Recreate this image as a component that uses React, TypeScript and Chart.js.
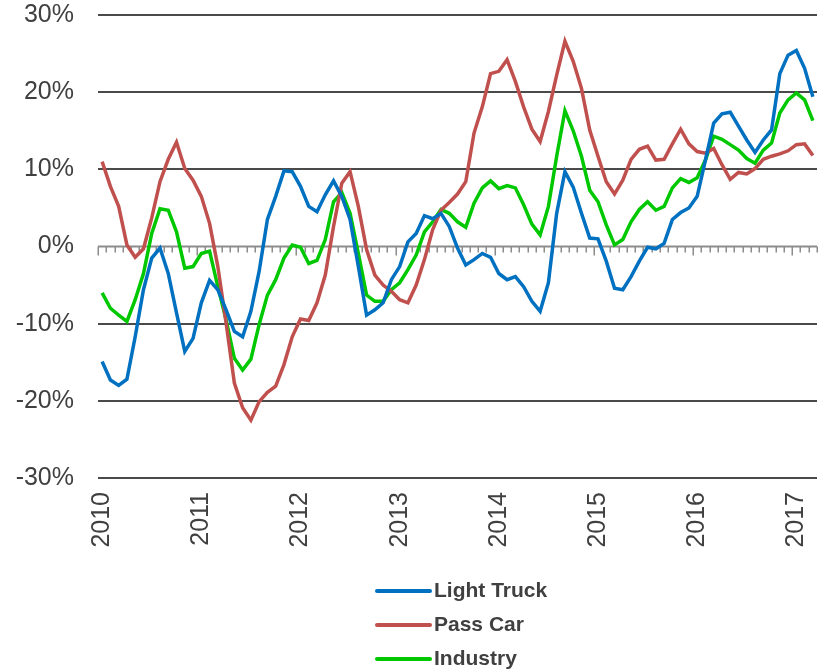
import React, { useEffect, useRef } from "react";
import { Chart, registerables } from "chart.js";

Chart.register(...registerables);

// Year labels shown on the category axis (one per January)
const yearLabels = ["2010", "2011", "2012", "2013", "2014", "2015", "2016", "2017"];
const monthNames = ["Jan", "Feb", "Mar", "Apr", "May", "Jun", "Jul", "Aug", "Sep", "Oct", "Nov", "Dec"];
const monthCount = 87; // Jan 2010 .. Mar 2017

// Year-over-year change, %
const lightTruck = [
  -14.9, -17.3, -18.0, -17.2, -11.7, -5.6, -1.5, -0.2, -3.5, -8.6, -13.6, -11.9,
  -7.3, -4.4, -5.6, -8.2, -11.0, -11.7, -8.4, -3.2, 3.5, 6.5, 9.8, 9.7,
  7.8, 5.2, 4.5, 6.7, 8.5, 6.5, 3.5, -2.6, -8.9, -8.2, -7.3, -4.3,
  -2.6, 0.6, 1.7, 4.0, 3.6, 4.3, 2.6, -0.2, -2.4, -1.7, -0.9, -1.4,
  -3.5, -4.3, -3.9, -5.2, -7.1, -8.4, -4.7, 4.3, 9.7, 7.7, 4.3, 1.1,
  1.0, -1.9, -5.4, -5.6, -3.9, -1.9, -0.1, -0.3, 0.4, 3.5, 4.4, 5.0,
  6.5, 11.2, 16.0, 17.2, 17.4, 15.6, 13.8, 12.2, 13.8, 15.1, 22.4, 24.8,
  25.4, 23.1, 19.4,
];

const passCar = [
  11.0, 7.8, 5.2, 0.2, -1.4, -0.3, 3.7, 8.4, 11.3, 13.5, 10.1, 8.6,
  6.5, 3.0, -2.6, -9.9, -17.7, -20.9, -22.5, -20.1, -18.9, -18.1, -15.3, -11.7,
  -9.4, -9.6, -7.3, -3.7, 2.6, 8.2, 9.7, 5.2, -0.4, -3.7, -5.0, -5.8,
  -6.9, -7.3, -5.0, -1.7, 2.2, 4.7, 5.7, 6.8, 8.4, 14.7, 18.1, 22.4,
  22.7, 24.2, 21.4, 18.1, 15.2, 13.6, 17.5, 22.2, 26.6, 24.0, 20.5, 15.1,
  11.7, 8.4, 6.8, 8.6, 11.3, 12.6, 13.0, 11.2, 11.3, 13.3, 15.2, 13.3,
  12.3, 12.1, 12.7, 10.6, 8.7, 9.6, 9.4, 10.1, 11.3, 11.7, 12.0, 12.4,
  13.2, 13.3, 11.8,
];

const industry = [
  -6.0, -8.0, -8.9, -9.7, -6.9, -3.5, 1.7, 4.9, 4.7, 1.9, -2.8, -2.6,
  -0.9, -0.6, -5.2, -9.5, -14.5, -16.0, -14.6, -10.1, -6.3, -4.3, -1.5, 0.2,
  -0.1, -2.2, -1.8, 0.9, 5.8, 7.0, 4.3, -0.9, -6.3, -7.1, -7.1, -5.6,
  -4.7, -3.0, -1.1, 1.9, 3.2, 4.8, 4.3, 3.2, 2.5, 5.6, 7.6, 8.5,
  7.5, 7.9, 7.6, 5.4, 2.9, 1.5, 5.2, 11.7, 17.6, 15.0, 11.7, 7.3,
  5.8, 2.8, 0.2, 0.9, 3.2, 4.8, 5.8, 4.7, 5.2, 7.6, 8.8, 8.3,
  8.9, 11.2, 14.3, 13.9, 13.2, 12.5, 11.4, 10.8, 12.5, 13.4, 17.3, 19.0,
  19.9, 19.0, 16.3,
];

const seriesNames = ["Light Truck", "Pass Car", "Industry"];
const seriesColors = ["#0070C0", "#C0504D", "#00C800"];

const yTicks = [-30, -20, -10, 0, 10, 20, 30];

const monthLabels: string[] = [];
for (let i = 0; i < monthCount; i++) {
  monthLabels.push(monthNames[i % 12] + " " + yearLabels[Math.floor(i / 12)]);
}

const TEXT = "#404040";
const FONT = "'Liberation Sans', Arial, sans-serif";

// Grey zero axis with monthly tick marks, drawn beneath the lines
const zeroAxisPlugin = {
  id: "zeroAxis",
  beforeDatasetsDraw(chart: any) {
    const { ctx, chartArea, scales } = chart;
    const y0 = scales.y.getPixelForValue(0);
    const n = chart.data.labels.length;
    const step = (chartArea.right - chartArea.left) / n;
    ctx.save();
    ctx.strokeStyle = "#8C8C8C";
    ctx.lineWidth = 2;
    ctx.beginPath();
    ctx.moveTo(chartArea.left, y0);
    ctx.lineTo(chartArea.right, y0);
    ctx.stroke();
    ctx.lineWidth = 1.5;
    ctx.beginPath();
    for (let k = 0; k <= n; k++) {
      const x = Math.round(chartArea.left + k * step) + 0.25;
      const len = k % 12 === 0 ? 9 : 6;
      ctx.moveTo(x, y0);
      ctx.lineTo(x, y0 + len);
    }
    ctx.stroke();
    ctx.restore();
  },
};

// Stacked legend under the axis labels
const stackedLegendPlugin = {
  id: "stackedLegend",
  afterDraw(chart: any) {
    const { ctx } = chart;
    const rows = [591, 625, 659];
    ctx.save();
    chart.data.datasets.forEach((ds: any, i: number) => {
      const y = rows[i];
      ctx.strokeStyle = ds.borderColor;
      ctx.lineWidth = 4;
      ctx.lineCap = "round";
      ctx.beginPath();
      ctx.moveTo(377, y);
      ctx.lineTo(430, y);
      ctx.stroke();
      ctx.fillStyle = TEXT;
      ctx.font = "bold 21px " + FONT;
      ctx.textAlign = "left";
      ctx.textBaseline = "middle";
      ctx.fillText(ds.label, 434, y);
    });
    ctx.restore();
  },
};

function noScalePadding(scale: any) {
  scale.paddingTop = 0;
  scale.paddingBottom = 0;
  scale.paddingLeft = 0;
  scale.paddingRight = 0;
}

export default function App() {
  const canvasRef = useRef<HTMLCanvasElement | null>(null);

  useEffect(() => {
    if (!canvasRef.current) return;
    const values = [lightTruck, passCar, industry];
    const chart = new Chart(canvasRef.current, {
      type: "line",
      data: {
        labels: monthLabels,
        datasets: values.map((v, i) => ({
          label: seriesNames[i],
          data: v,
          borderColor: seriesColors[i],
          backgroundColor: seriesColors[i],
          borderWidth: 3.5,
          pointRadius: 0,
          tension: 0,
          fill: false,
        })),
      },
      options: {
        responsive: false,
        animation: false,
        devicePixelRatio: 1,
        layout: { padding: { top: 15, right: 12, left: 0, bottom: 0 } },
        plugins: {
          legend: { display: false },
          tooltip: { enabled: false },
        },
        scales: {
          x: {
            type: "category",
            offset: true,
            grid: { display: false, drawTicks: false },
            border: { display: false },
            ticks: {
              autoSkip: false,
              maxRotation: 90,
              minRotation: 90,
              padding: 14,
              color: TEXT,
              font: { family: FONT, size: 25 },
              callback: (_v: any, idx: number) =>
                idx % 12 === 0 ? yearLabels[idx / 12] : "",
            },
            afterFit: (scale: any) => {
              scale.height = 194;
              noScalePadding(scale);
            },
          },
          y: {
            min: yTicks[0],
            max: yTicks[yTicks.length - 1],
            afterBuildTicks: (scale: any) => {
              scale.ticks = yTicks.map((v) => ({ value: v }));
            },
            grid: {
              drawTicks: false,
              lineWidth: 2,
              color: (c: any) => (c.tick && c.tick.value === 0 ? "rgba(0,0,0,0)" : "#4A4A4A"),
            },
            border: { display: false },
            ticks: {
              padding: 24,
              color: TEXT,
              font: { family: FONT, size: 25 },
              callback: (v: any) => v + "%",
            },
            afterFit: (scale: any) => {
              scale.width = 98;
              noScalePadding(scale);
            },
          },
        },
      },
      plugins: [zeroAxisPlugin, stackedLegendPlugin],
    });
    return () => chart.destroy();
  }, []);

  return (
    <div style={{ position: "fixed", left: 0, top: 0, width: 829, height: 672, background: "#fff" }}>
      <canvas ref={canvasRef} width={829} height={672} />
    </div>
  );
}
